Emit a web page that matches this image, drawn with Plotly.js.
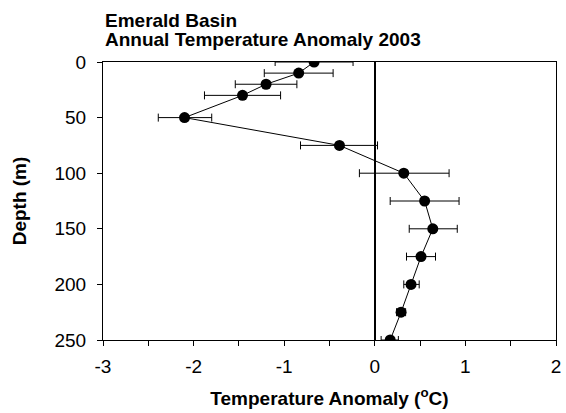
<!DOCTYPE html>
<html>
<head>
<meta charset="utf-8">
<script src="https://cdn.plot.ly/plotly-3.0.1.min.js"></script>
<style>html,body{margin:0;padding:0;background:#fff;}#chart{width:566px;height:413px;}</style>
</head>
<body>
<div id="chart"></div>
<script>
var depth = [0, 10, 20, 30, 50, 75, 100, 125, 150, 175, 200, 225, 250];
var anomaly = [-0.67, -0.84, -1.20, -1.46, -2.10, -0.39, 0.32, 0.55, 0.64, 0.51, 0.40, 0.29, 0.17];
var errPlus = [0.43, 0.38, 0.34, 0.42, 0.30, 0.42, 0.50, 0.38, 0.27, 0.16, 0.09, 0.05, 0.09];
var errMinus = [0.43, 0.38, 0.34, 0.42, 0.29, 0.43, 0.49, 0.38, 0.26, 0.16, 0.08, 0.05, 0.10];
var xTicks = [-3, -2, -1, 0, 1, 2];
var yTicks = [0, 50, 100, 150, 200, 250];
var titleLines = ['Emerald Basin', 'Annual Temperature Anomaly 2003'];

var font = 'Liberation Sans, Arial, sans-serif';
var fs = 19;
var trace = {
  x: anomaly, y: depth, type: 'scatter', mode: 'lines+markers',
  line: {color: '#000', width: 1},
  marker: {color: '#000', size: 11, symbol: 'circle'},
  error_x: {type: 'data', symmetric: false, array: errPlus, arrayminus: errMinus,
            color: '#000', thickness: 1, width: 4},
  hoverinfo: 'none', showlegend: false
};
var layout = {
  width: 566, height: 413,
  margin: {l: 103, r: 10, t: 62, b: 73},
  paper_bgcolor: '#fff', plot_bgcolor: '#fff',
  font: {family: font, color: '#000', size: fs},
  annotations: [
    {text: '<b>' + titleLines[0] + '</b>', xref: 'paper', yref: 'paper', x: 0, y: 1,
     xanchor: 'left', yanchor: 'middle', yshift: 42, showarrow: false,
     font: {family: font, size: fs, color: '#000'}},
    {text: '<b>' + titleLines[1] + '</b>', xref: 'paper', yref: 'paper', x: 0, y: 1,
     xanchor: 'left', yanchor: 'middle', yshift: 23, showarrow: false,
     font: {family: font, size: fs, color: '#000'}}
  ],
  xaxis: {range: [-3, 2], tickvals: xTicks, ticktext: xTicks.map(String),
          ticks: 'outside', ticklen: 5, tickwidth: 1, tickcolor: '#000',
          minor: {dtick: 0.5, tick0: 0, ticks: 'outside', ticklen: 5, tickwidth: 1, tickcolor: '#000'},
          showgrid: false, zeroline: true, zerolinecolor: '#000', zerolinewidth: 2,
          showline: true, linecolor: '#000', linewidth: 1, mirror: true,
          ticklabelstandoff: 4,
          tickfont: {size: fs, family: font},
          title: {text: '<b>Temperature Anomaly (<sup>o</sup>C)</b>', font: {size: fs, family: font}, standoff: 15}},
  yaxis: {range: [250, 0], tickvals: yTicks, ticktext: yTicks.map(String),
          ticks: 'outside', ticklen: 5, tickwidth: 1, tickcolor: '#000',
          showgrid: false, zeroline: false,
          showline: true, linecolor: '#000', linewidth: 1, mirror: true,
          ticklabelstandoff: 7,
          tickfont: {size: fs, family: font},
          title: {text: '<b>Depth (m)</b>', font: {size: fs, family: font}, standoff: 22}}
};
Plotly.newPlot('chart', [trace], layout, {staticPlot: true, displayModeBar: false});
</script>
</body>
</html>
